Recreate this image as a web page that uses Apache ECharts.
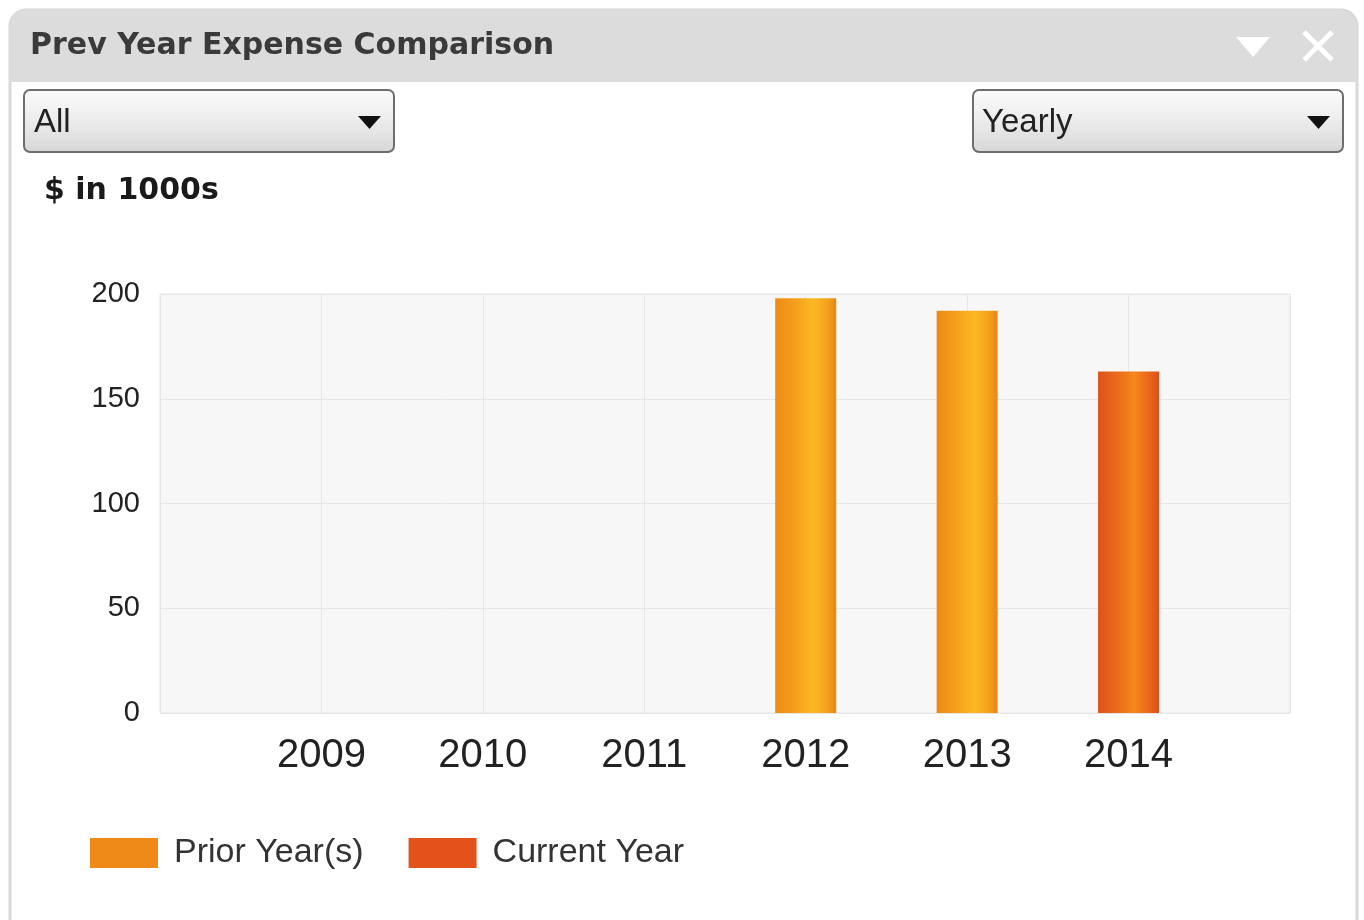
<!DOCTYPE html>
<html>
<head>
<meta charset="utf-8">
<script src="https://cdn.jsdelivr.net/npm/echarts@6/dist/echarts.min.js"></script>
<style>
html,body{margin:0;padding:0;background:#ffffff;}
#chart{width:1364px;height:920px;}
</style>
</head>
<body>
<div id="chart"></div>
<script>
// ---- data ----
var years = ['2009', '2010', '2011', '2012', '2013', '2014'];
var priorYear = [null, null, null, 198, 192, null];
var currentYear = [null, null, null, null, null, 163];
var yTicks = [0, 50, 100, 150, 200];
var seriesNames = ['Prior Year(s)', 'Current Year'];
var titleText = 'Prev Year Expense Comparison';
var unitText = '$ in 1000s';
var filterText = 'All';
var periodText = 'Yearly';

// padded axis (one empty slot at each end)
var axisCats = [''].concat(years, ['']);
var priorData = [null].concat(priorYear, [null]);
var currentData = [null].concat(currentYear, [null]);

var chart = echarts.init(document.getElementById('chart'));

function grad(stops) {
  return new echarts.graphic.LinearGradient(0, 0, 1, 0, stops);
}
function dropGrad() {
  return new echarts.graphic.LinearGradient(0, 0, 0, 1, [
    {offset: 0, color: '#fbfbfb'},
    {offset: 0.45, color: '#eeeeee'},
    {offset: 1, color: '#d6d6d6'}
  ]);
}

var option = {
  backgroundColor: '#ffffff',
  animation: false,
  graphic: [
    {type: 'rect', z: -10, shape: {x: 10, y: 10, width: 1347, height: 940, r: 16},
      style: {fill: '#ffffff', stroke: '#d8d8d8', lineWidth: 3}},
    {type: 'rect', z: -9, shape: {x: 10, y: 10, width: 1347, height: 72, r: [16, 16, 0, 0]},
      style: {fill: '#dcdcdc'}},
    {type: 'text', z: -8, x: 30, y: 46,
      style: {text: titleText, font: 'bold 30px "DejaVu Sans"', fill: '#3a3a3a', textVerticalAlign: 'middle'}},
    {type: 'polygon', z: -8, shape: {points: [[1236, 37], [1270, 37], [1253, 57]]},
      style: {fill: '#ffffff'}},
    {type: 'line', z: -8, shape: {x1: 1304, y1: 32, x2: 1332, y2: 60}, style: {stroke: '#ffffff', lineWidth: 5}},
    {type: 'line', z: -8, shape: {x1: 1332, y1: 32, x2: 1304, y2: 60}, style: {stroke: '#ffffff', lineWidth: 5}},
    // dropdown "All"
    {type: 'rect', z: -8, shape: {x: 24, y: 90, width: 370, height: 62, r: 6},
      style: {fill: dropGrad(), stroke: '#6e6e6e', lineWidth: 2}},
    {type: 'text', z: -7, x: 34, y: 123,
      style: {text: filterText, font: '33px "Liberation Sans"', fill: '#222222', textVerticalAlign: 'middle'}},
    {type: 'polygon', z: -7, shape: {points: [[358, 116], [381, 116], [369.5, 129]]},
      style: {fill: '#111111'}},
    // dropdown "Yearly"
    {type: 'rect', z: -8, shape: {x: 973, y: 90, width: 370, height: 62, r: 6},
      style: {fill: dropGrad(), stroke: '#6e6e6e', lineWidth: 2}},
    {type: 'text', z: -7, x: 982, y: 123,
      style: {text: periodText, font: '33px "Liberation Sans"', fill: '#222222', textVerticalAlign: 'middle'}},
    {type: 'polygon', z: -7, shape: {points: [[1307, 116], [1330, 116], [1318.5, 129]]},
      style: {fill: '#111111'}},
    // unit label
    {type: 'text', z: -7, x: 44, y: 191,
      style: {text: unitText, font: 'bold 30px "DejaVu Sans"', fill: '#1a1a1a', textVerticalAlign: 'middle'}}
  ],
  legend: {
    left: 85,
    top: 831,
    itemWidth: 68,
    itemHeight: 30,
    itemGap: 45,
    icon: 'rect',
    textStyle: {fontFamily: 'Liberation Sans', fontSize: 34, color: '#333333', padding: [0, 0, 0, 11]},
    data: [
      {name: seriesNames[0], itemStyle: {color: '#ef8a19'}},
      {name: seriesNames[1], itemStyle: {color: '#e2521a'}}
    ]
  },
  grid: {
    left: 160,
    right: 74,
    top: 294,
    bottom: 207,
    show: true,
    backgroundColor: '#f7f7f7',
    borderColor: '#e6e6e6',
    borderWidth: 1
  },
  xAxis: {
    type: 'category',
    data: axisCats,
    boundaryGap: false,
    axisLine: {show: false},
    axisTick: {show: false},
    splitLine: {show: true, lineStyle: {color: '#e6e6e6', width: 1}},
    axisLabel: {fontFamily: 'Liberation Sans', fontSize: 40, color: '#222222', margin: 23}
  },
  yAxis: {
    type: 'value',
    min: yTicks[0],
    max: yTicks[yTicks.length - 1],
    interval: yTicks[1] - yTicks[0],
    axisLine: {show: false},
    axisTick: {show: false},
    splitLine: {show: true, lineStyle: {color: '#e6e6e6', width: 1}},
    axisLabel: {fontFamily: 'Liberation Sans', fontSize: 29, color: '#222222', margin: 20}
  },
  series: [
    {
      name: seriesNames[0],
      type: 'bar',
      data: priorData,
      barWidth: 61,
      barGap: '-100%',
      itemStyle: {color: grad([
        {offset: 0, color: '#ec8a15'},
        {offset: 0.3, color: '#f59d1c'},
        {offset: 0.62, color: '#fcb824'},
        {offset: 0.85, color: '#f5a11d'},
        {offset: 1, color: '#e68714'}
      ])}
    },
    {
      name: seriesNames[1],
      type: 'bar',
      data: currentData,
      barWidth: 61,
      barGap: '-100%',
      itemStyle: {color: grad([
        {offset: 0, color: '#de521b'},
        {offset: 0.3, color: '#ea6a1b'},
        {offset: 0.6, color: '#f6871a'},
        {offset: 0.85, color: '#e8641b'},
        {offset: 1, color: '#d9501d'}
      ])}
    }
  ]
};
chart.setOption(option);
</script>
</body>
</html>
